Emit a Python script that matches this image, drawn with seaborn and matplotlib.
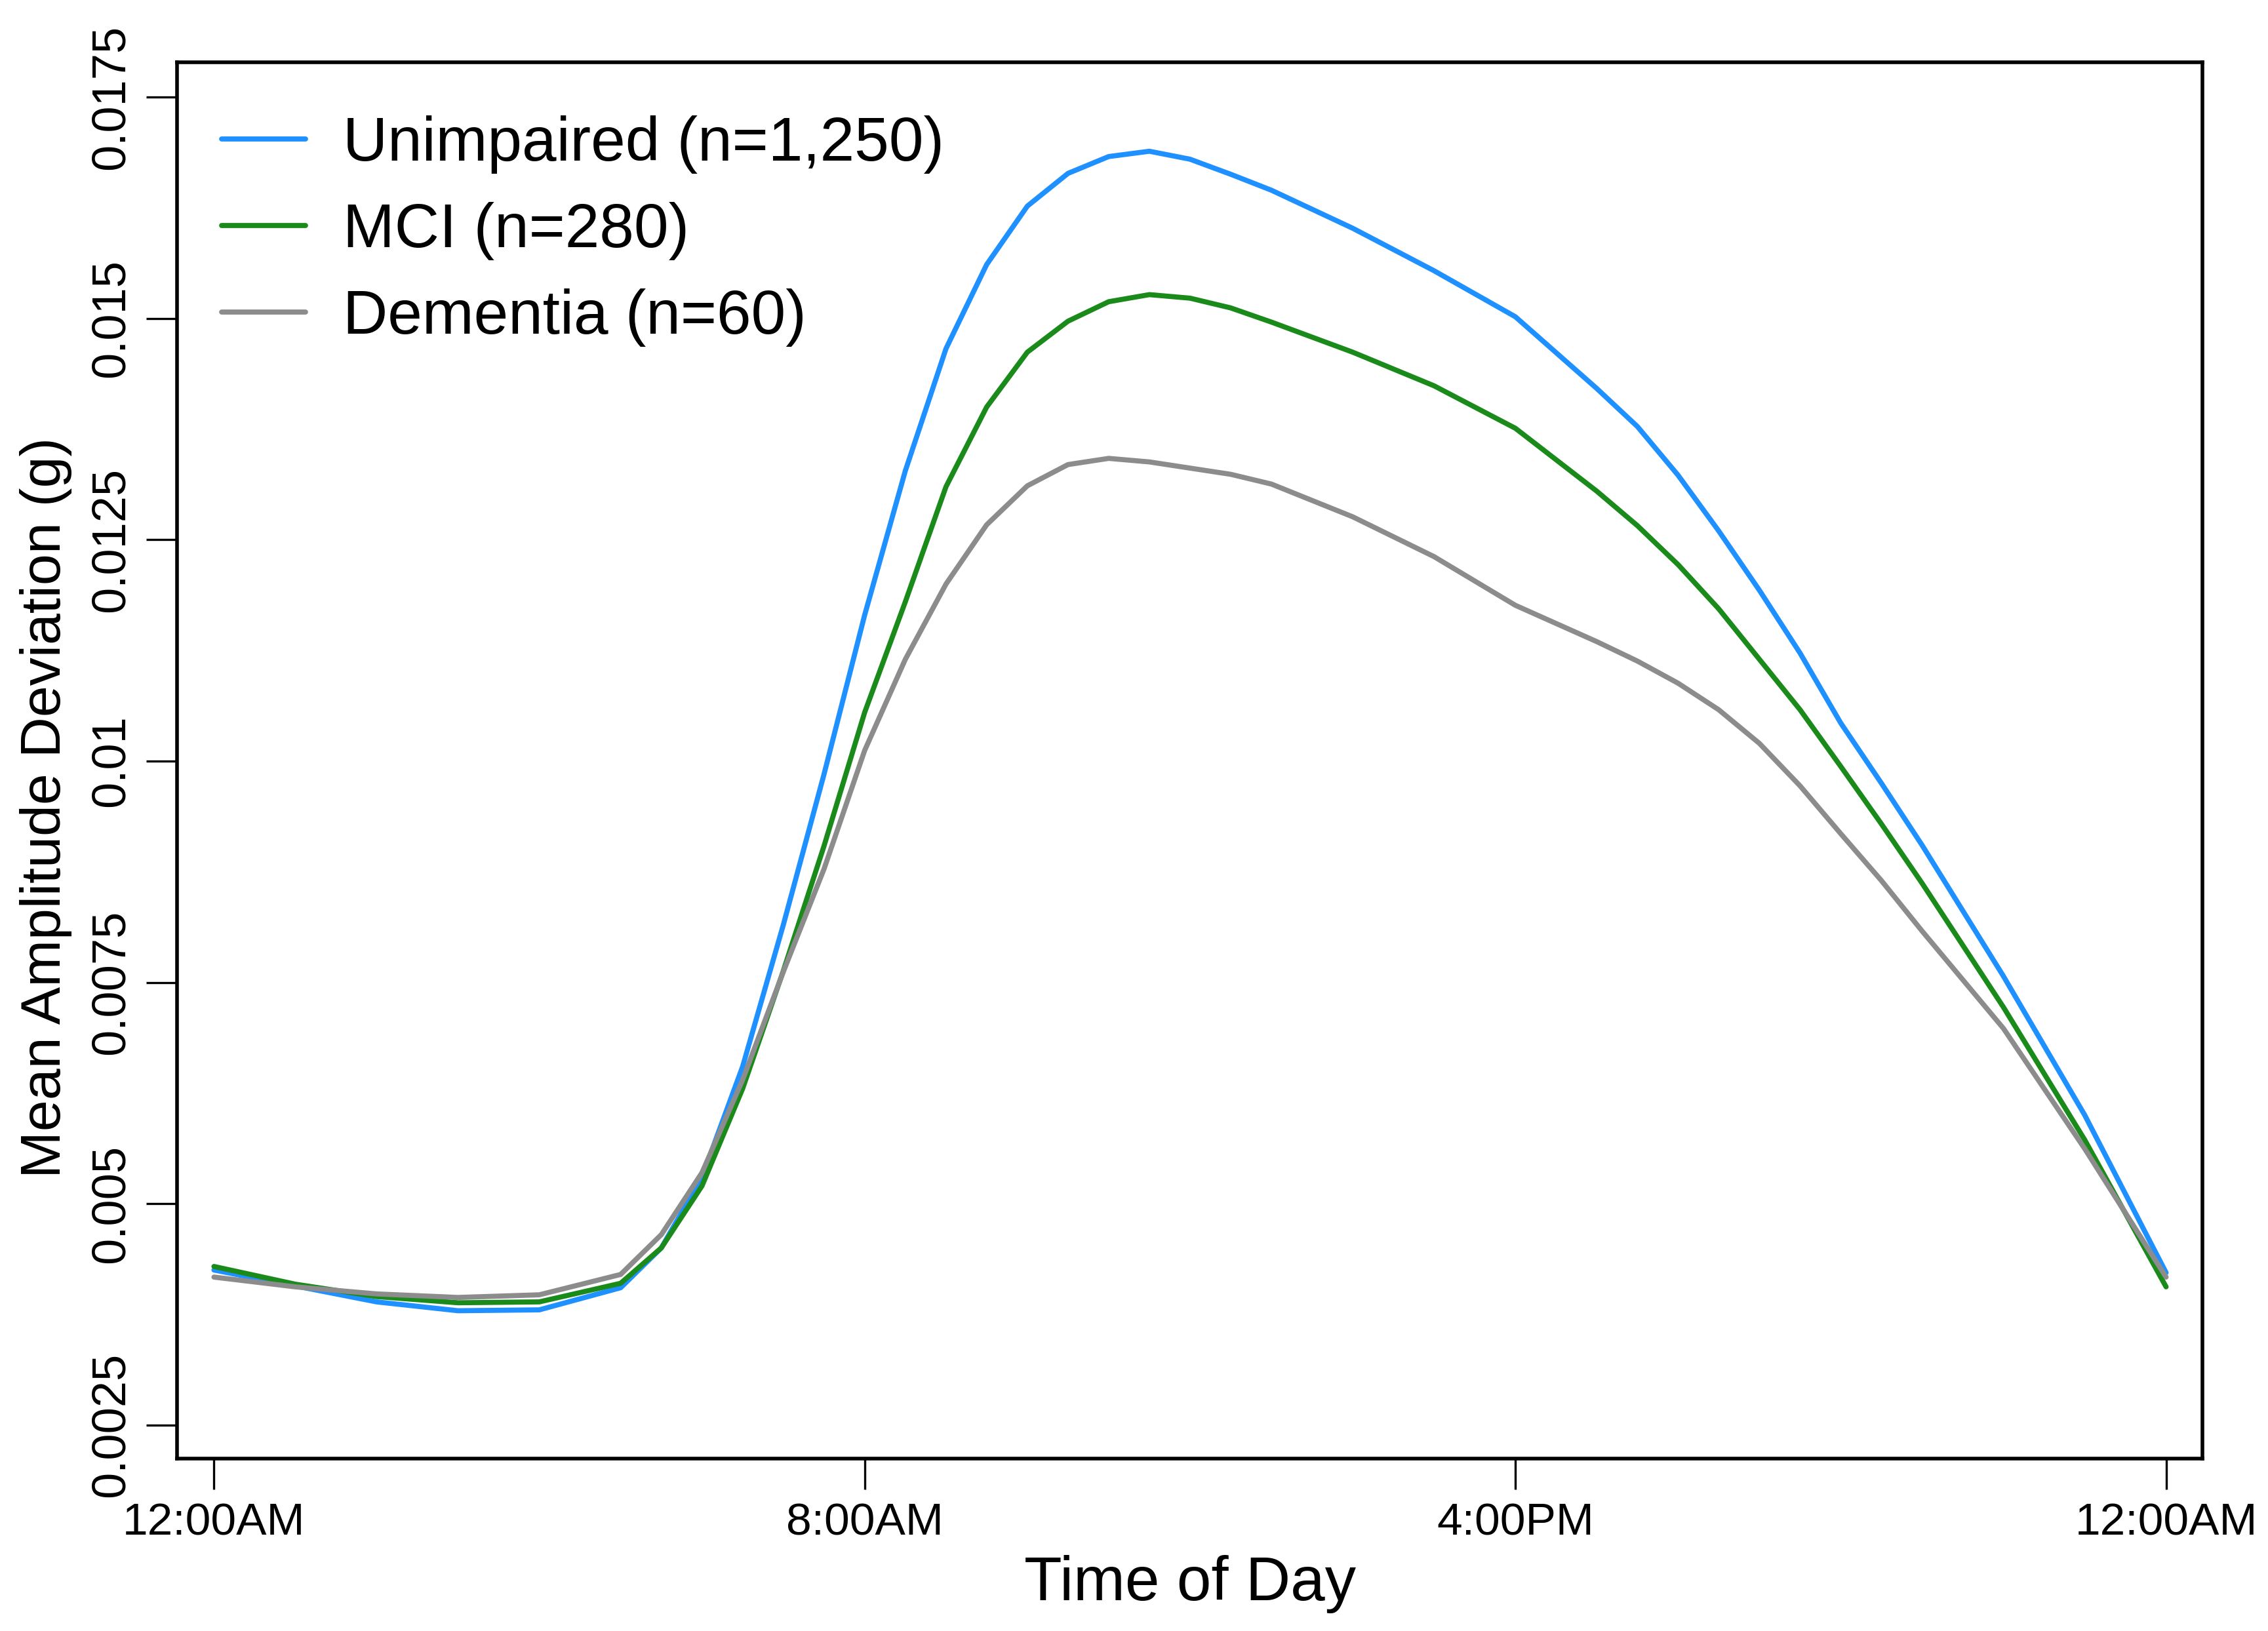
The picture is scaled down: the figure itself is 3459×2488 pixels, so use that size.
import numpy as np
import pandas as pd
import matplotlib
matplotlib.use("Agg")
import matplotlib.pyplot as plt
import seaborn as sns

# values (hours since midnight)
hours = [0, 1, 2, 3, 4, 5, 5.5, 6, 6.5, 7, 7.5, 8, 8.5, 9, 9.5, 10, 10.5,
         11, 11.5, 12, 12.5, 13, 14, 15, 16, 17, 17.5, 18, 18.5, 19, 19.5,
         20, 20.5, 21, 22, 23, 24]

unimpaired = [0.00425, 0.00407, 0.00389, 0.00379, 0.00380, 0.00405, 0.00450,
              0.00530, 0.00655, 0.00815, 0.00985, 0.01165, 0.01328, 0.01466,
              0.01561, 0.01627, 0.01664, 0.01683, 0.01689, 0.01680, 0.01663,
              0.01645, 0.01602, 0.01554, 0.01502, 0.01421, 0.01378, 0.01323,
              0.01260, 0.01193, 0.01122, 0.01043, 0.00975, 0.00905, 0.00757,
              0.00600, 0.00422]

mci = [0.00429, 0.00409, 0.00395, 0.00388, 0.00389, 0.00410, 0.00450,
       0.00520, 0.00630, 0.00763, 0.00904, 0.01055, 0.01180, 0.01310,
       0.01400, 0.01462, 0.01497, 0.01519, 0.01527, 0.01523, 0.01512,
       0.01496, 0.01462, 0.01424, 0.01376, 0.01305, 0.01266, 0.01222,
       0.01172, 0.01115, 0.01058, 0.00994, 0.00929, 0.00862, 0.00722,
       0.00572, 0.00406]

dementia = [0.00417, 0.00406, 0.00398, 0.00394, 0.00397, 0.00420, 0.00465,
            0.00535, 0.00640, 0.00762, 0.00878, 0.01012, 0.01115, 0.01200,
            0.01267, 0.01311, 0.01335, 0.01342, 0.01338, 0.01331, 0.01324,
            0.01313, 0.01276, 0.01231, 0.01176, 0.01135, 0.01113, 0.01088,
            0.01058, 0.01020, 0.00972, 0.00918, 0.00865, 0.00808, 0.00698,
            0.00562, 0.00417]

groups = ["Unimpaired (n=1,250)", "MCI (n=280)", "Dementia (n=60)"]
colors = ["#1E90FF", "#1A8A1A", "#8C8C8C"]

x_ticks = [0, 8, 16, 24]
x_labels = ["12:00AM", "8:00AM", "4:00PM", "12:00AM"]
y_ticks = [0.0025, 0.005, 0.0075, 0.01, 0.0125, 0.015, 0.0175]
y_labels = ["0.0025", "0.005", "0.0075", "0.01", "0.0125", "0.015", "0.0175"]

df = pd.concat([
    pd.DataFrame({"hour": hours, "mad": vals, "group": g})
    for g, vals in zip(groups, [unimpaired, mci, dementia])
])

sns.set_theme(style="white")
plt.rcParams["font.family"] = ["Liberation Sans", "DejaVu Sans"]
plt.rcParams["text.color"] = "black"
plt.rcParams["axes.labelcolor"] = "black"
plt.rcParams["xtick.color"] = "black"
plt.rcParams["ytick.color"] = "black"

fig = plt.figure(figsize=(3459 / 200, 2488 / 200), dpi=200)
ax = fig.add_axes([0.0782, 0.1059, 0.8930, 0.8558])

sns.lineplot(data=df, x="hour", y="mad", hue="group", hue_order=groups,
             palette=colors, linewidth=2.8, ax=ax, legend=False)

ax.set_xlim(-0.45, 24.45)
ax.set_ylim(0.002123, 0.017893)

ax.set_xticks(x_ticks)
ax.set_xticklabels(x_labels)
ax.set_yticks(y_ticks)
ax.set_yticklabels(y_labels, rotation=90, va="center")

ax.tick_params(axis="both", which="major", length=17, width=1.2,
               color="black", labelcolor="black", pad=7, direction="out",
               bottom=True, left=True)
ax.tick_params(axis="x", labelsize=25)
ax.tick_params(axis="y", labelsize=26)

for side in ax.spines.values():
    side.set_color("black")
    side.set_linewidth(2.0)

ax.set_xlabel("Time of Day", fontsize=34, labelpad=6)
ax.set_ylabel("Mean Amplitude Deviation (g)", fontsize=31)
ax.yaxis.set_label_coords(-0.052, 0.466)

handles = [plt.Line2D([0], [0], color=c, linewidth=2.8) for c in colors]
ax.legend(handles, groups, loc="upper left", frameon=False, fontsize=34,
          handlelength=1.35, handletextpad=0.6, labelspacing=0.46,
          borderaxespad=0.45, bbox_to_anchor=(-0.004, 1.0))

fig.savefig("out.png", dpi=200, facecolor="white")
